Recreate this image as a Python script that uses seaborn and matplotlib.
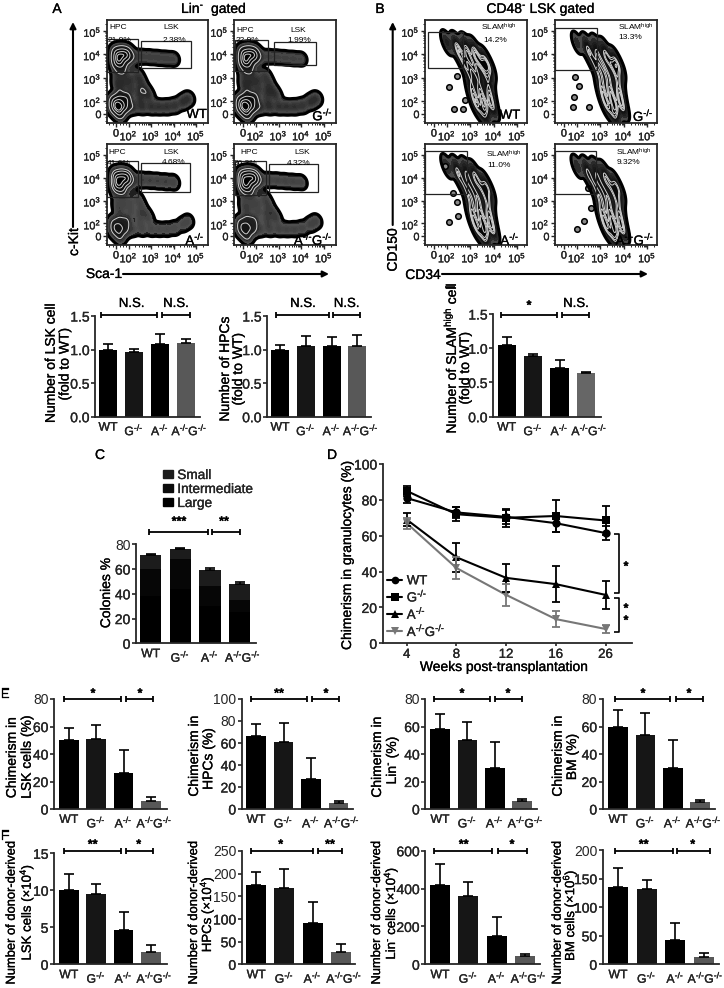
import numpy as np
import pandas as pd
import matplotlib
matplotlib.use("Agg")
import matplotlib.pyplot as plt
import matplotlib.patheffects as pe
import matplotlib.transforms as mtrans
import seaborn as sns
from matplotlib.colors import LinearSegmentedColormap
from matplotlib.lines import Line2D
from matplotlib.patches import Patch, Rectangle, FancyArrowPatch
from matplotlib.text import Text
from matplotlib.ticker import FixedLocator

KO = r"$^{\text{-/-}}$"
GENOTYPES = ["WT", "G" + KO, "A" + KO, "A" + KO + "G" + KO]
BAR_COLORS = ["#000000", "#161616", "#000000", "#585858"]

# Panel A / B bars
lsk_fold = [1.00, 0.96, 1.08, 1.10];      lsk_fold_err = [0.08, 0.05, 0.15, 0.06]
hpc_fold = [1.00, 1.06, 1.06, 1.05];      hpc_fold_err = [0.07, 0.14, 0.12, 0.17]
slam_fold = [1.04, 0.88, 0.71, 0.64];     slam_fold_err = [0.12, 0.04, 0.12, 0.02]
# Panel C
col_large = [38, 44, 30, 25]
col_inter = [22, 24, 16, 10]
col_small = [11, 8.5, 13, 13]
col_err = [0.8, 0.8, 2, 1.5]
# Panel D
weeks = ["4", "8", "12", "16", "26"]
d_wt = [81, 73, 70.5, 67, 61.5];  d_wt_err = [3, 3, 4, 5, 4]
d_g = [85, 72, 70, 71, 68.5];     d_g_err = [3, 4, 5, 9, 8]
d_a = [69, 48, 36.5, 33, 27];     d_a_err = [3.5, 8, 8, 10, 8]
d_ag = [67, 42, 27, 13.5, 8];     d_ag_err = [3, 6, 6, 4.5, 2]
# Panel E
e_lsk = [50, 51, 26, 6];     e_lsk_err = [9, 10, 17, 2.5]
e_hpc = [66, 60.5, 27, 5.5]; e_hpc_err = [11, 18, 19, 2]
e_lin = [58, 50.5, 29.5, 5.5]; e_lin_err = [11, 13, 19, 2]
e_bm = [60, 53.5, 30, 5];    e_bm_err = [12, 16.5, 20, 1.5]
# Panel F
f_lsk = [10, 9.55, 4.6, 1.7];  f_lsk_err = [2.2, 1.25, 2.5, 0.9]
f_hpc = [175, 168, 92, 28];    f_hpc_err = [28, 42, 46, 17]
f_lin = [418, 362, 152, 45];   f_lin_err = [112, 73, 98, 12]
f_bm = [135, 132, 42, 12];     f_bm_err = [33, 15, 31, 7]

# Flow plots: density anchors, on a decade scale
a_x = [1.7, 1.45, 1.95, 1.7, 1.7, 1.45, 1.95, 1.45,
       2.25, 2.6, 2.95, 3.3, 3.65, 4.0,
       1.5, 1.8, 1.5, 1.8, 1.6, 2.1, 2.1,
       2.4, 2.55, 2.5, 2.75, 2.9, 2.5,
       1.6, 1.35, 1.85, 1.6, 1.6, 1.35, 1.9,
       2.2, 2.6, 3.0, 3.35, 3.7, 4.05, 4.4, 4.65]
a_y = [3.85, 3.85, 3.85, 4.15, 3.55, 4.1, 4.1, 3.6,
       3.9, 3.9, 3.88, 3.85, 3.82, 3.8,
       3.2, 3.2, 2.8, 2.8, 2.5, 2.9, 2.5,
       3.1, 2.8, 2.45, 2.45, 2.2, 2.1,
       1.75, 1.7, 1.75, 2.1, 1.45, 2.0, 2.1,
       1.75, 1.75, 1.75, 1.75, 1.75, 1.8, 1.95, 2.1]
a_group = [0] * 8 + [1] * 6 + [2] * 7 + [3] * 6 + [4] * 7 + [5] * 8
a_gw_wt = [2.5, .9, 1, 1, 3, 1.2]
a_gw_g = [2.5, .8, 1, .9, 3, 1.2]
a_gw_a = [4, 1.2, .8, .8, 2.5, .9]
a_gw_ag = [4, 1.1, .9, 1, 2.5, 1.1]

b_x = [2.0, 2.4, 2.8, 3.15, 2.5, 2.85, 3.25, 3.6, 2.75, 3.1, 3.5, 3.8, 3.0, 3.35, 3.75,
       3.05, 3.4, 3.8, 3.15, 3.5, 3.85, 3.3, 3.65, 3.95, 3.6]
b_y = [4.5, 4.45, 4.4, 4.25, 4.1, 4.0, 3.9, 3.8, 3.6, 3.55, 3.5, 3.4, 3.1, 3.05, 3.0,
       2.6, 2.55, 2.5, 2.15, 2.1, 2.1, 1.75, 1.7, 1.7, 1.35]
b_group = [0] * 4 + [1] * 8 + [2] * 6 + [3] * 7
b_gw_wt = [.9, 1.2, 1, 1.1]
b_gw_g = [.6, 1, 1.1, 1.1]
b_gw_a = [.8, .9, 1.1, 1.2]
b_gw_ag = [.7, .9, 1.1, 1.2]

isl_wt_x = [2.44, 2.10, 2.77, 2.31, 2.67]; isl_wt_y = [3.07, 2.58, 2.04, 1.64, 1.64]
isl_g_x = [1.91, 2.09, 1.87, 1.84, 2.50];  isl_g_y = [3.01, 2.64, 2.18, 1.75, 1.75]
isl_a_x = [1.91, 2.27, 2.44, 2.49, 2.10];  isl_a_y = [4.5, 3.34, 2.93, 2.31, 2.05]
isl_ag_x = [2.49, 2.59, 2.30, 1.99];       isl_ag_y = [3.57, 2.68, 2.09, 1.78]

W, H = 724, 988
sns.set_theme(style="ticks")
plt.rcParams["font.family"] = ["Liberation Sans", "DejaVu Sans"]
plt.rcParams["mathtext.fontset"] = "custom"
plt.rcParams["mathtext.rm"] = "Liberation Sans"
plt.rcParams["mathtext.it"] = "Liberation Sans"
plt.rcParams["mathtext.bf"] = "Liberation Sans:bold"
plt.rcParams["mathtext.default"] = "regular"
fig = plt.figure(figsize=(W / 100, H / 100), dpi=100, facecolor="white")


def fx(x):
    return x / W


def fy(y):
    return 1 - y / H


def add_ax(x0, x1, ytop, ybot):
    return fig.add_axes([fx(x0), fy(ybot), fx(x1 - x0), (ybot - ytop) / H])


def txt(x, y, s, size=10, rot=0, **kw):
    fig.text(fx(x), fy(y), s, fontsize=size, rotation=rot, ha=kw.pop("ha", "center"),
             va=kw.pop("va", "center"), color="black", **kw)


def pline(xs, ys, lw=1.2, color="black"):
    fig.add_artist(Line2D([fx(v) for v in xs], [fy(v) for v in ys], transform=fig.transFigure,
                          color=color, lw=lw, solid_capstyle="butt"))


def bracket(x0, x1, y):
    pline([x0, x1], [y, y], 1.3)
    for v in (x0, x1):
        pline([v, v], [y - 3.3, y + 3.3], 1.3)


def arrow(x0, y0, x1, y1):
    fig.add_artist(FancyArrowPatch(
        (fx(x0), fy(y0)), (fx(x1), fy(y1)), transform=fig.transFigure, arrowstyle="-|>",
        mutation_scale=9, lw=1.5, color="black", shrinkA=0, shrinkB=0))


def bar_panel(values, errs, x0, x1, c0, sp, ytop, ybase, ymax, yticks, width=0.72, shift=3.5):
    ax = add_ax(x0, x1, ytop, ybase)
    sns.barplot(x=GENOTYPES, y=values, hue=GENOTYPES, palette=BAR_COLORS, legend=False,
                saturation=1, width=width, errorbar=None, linewidth=0, ax=ax)
    ax.errorbar(range(4), values, yerr=[np.zeros(4), errs], fmt="none", ecolor="black",
                elinewidth=1.2, capsize=3.4, capthick=1.2, zorder=3)
    style_bar_axes(ax, x0, x1, c0, sp, ymax, yticks, shift)
    return ax


def style_bar_axes(ax, x0, x1, c0, sp, ymax, yticks, shift=3.5):
    ax.set_xlim((x0 - c0) / sp, (x1 - c0) / sp)
    ax.set_ylim(0, ymax)
    ax.set_yticks(yticks)
    ax.set_xlabel("")
    ax.set_ylabel("")
    sns.despine(ax=ax)
    for s in ("left", "bottom"):
        ax.spines[s].set_linewidth(1.3)
    ax.tick_params(axis="y", length=3, width=1.2, labelsize=10, pad=1)
    ax.tick_params(axis="x", length=0, labelsize=8.8, pad=3.5)
    ax.patch.set_alpha(0)
    last = ax.get_xticklabels()[-1]
    last.set_transform(last.get_transform() + mtrans.Affine2D().translate(shift, 0))


zebra = LinearSegmentedColormap.from_list(
    "zebra", [(0, "#000000"), (0.05, "#505050"), (0.2, "#2c2c2c"), (0.5, "#141414"), (1, "#000000")])
U0 = 1.44
XLIM_A, XLIM_B, YLIM = (1.04, 5.53), (1.06, 5.42), (1.06, 5.47)
DEC = [r"$10^{%d}$" % d for d in (2, 3, 4, 5)]
minor = [np.log10(k) + d for d in (2, 3, 4) for k in range(2, 10)] + [1.15, 1.3, 1.6, 1.75, 1.9, 5.3]


def flow(box, px, py, group, gw, xlim, factor, isl=None):
    ax = add_ax(*box)
    weights = np.array(gw)[np.array(group)]
    clip = (xlim, YLIM)
    kw = dict(x=px, y=py, weights=weights, bw_method=factor, clip=clip, gridsize=100, ax=ax)
    sns.kdeplot(fill=True, levels=16, thresh=0.02, cmap=zebra, **kw)
    sns.kdeplot(levels=[0.45, 0.65, 0.82, 0.93], color="#cfcfcf", linewidths=0.7, **kw)
    sns.kdeplot(levels=[0.02], color="black", linewidths=2.2, **kw)
    if isl is not None:
        sns.scatterplot(x=isl[0], y=isl[1], s=16, color="#8a8a8a", edgecolor="black", linewidth=1.1, ax=ax, legend=False)
    ax.set_xlim(*xlim)
    ax.set_ylim(*YLIM)
    ax.set_xlabel("")
    ax.set_ylabel("")
    for a in (ax.xaxis, ax.yaxis):
        a.set_major_locator(FixedLocator([U0, 2, 3, 4, 5]))
        a.set_minor_locator(FixedLocator(minor))
    ax.set_xticklabels(["0"] + DEC)
    ax.set_yticklabels(["0"] + DEC)
    ax.tick_params(which="major", length=3, width=1, labelsize=7.8, pad=1)
    ax.tick_params(which="minor", length=1.6, width=0.7)
    for s in ax.spines.values():
        s.set_linewidth(1.3)
        s.set_visible(True)
    return ax


def gate(z, off=0):
    x0, y0, x1, y1 = z
    fig.add_artist(Rectangle((fx(off + x0 / 3), fy(y1 / 3)), (x1 - x0) / 3 / W, (y1 - y0) / 3 / H,
                             transform=fig.transFigure, fill=False, ec="#222222", lw=0.9))


def ztxt(X, Y, s, size=6, off=0):
    txt(off + X / 3, Y / 3, s, size)


# ---------- Panel A flow ----------
a_boxes = [(107, 208, 20, 123), (234, 336, 20, 123), (107, 208, 144, 245), (234, 336, 144, 245)]
for box, w in zip(a_boxes, (a_gw_wt, a_gw_g, a_gw_a, a_gw_ag)):
    flow(box, a_x, a_y, a_group, w, XLIM_A, 0.19)
for z in [(322, 118, 415, 215), (424, 122, 573, 205), (705, 120, 805, 213), (823, 125, 949, 196),
          (320, 482, 415, 590), (424, 490, 570, 575), (705, 484, 797, 585), (806, 492, 955, 575)]:
    gate(z)
for X, Y, s in [(355, 83, "HPC"), (515, 83, "LSK"), (358, 122, "21.9%"), (522, 122, "2.38%"),
                (737, 92, "HPC"), (896, 92, "LSK"), (742, 122, "22.9%"), (897, 122, "1.99%"),
                (353, 457, "HPC"), (513, 457, "LSK"), (355, 491, "41.6%"), (522, 489, "4.68%"),
                (747, 457, "HPC"), (906, 457, "LSK"), (735, 491, "36.3%"), (897, 490, "4.32%")]:
    ztxt(X, Y, s)
for X, Y, s in [(590, 345, "WT"), (968, 345, GENOTYPES[1]), (585, 718, GENOTYPES[2]), (940, 718, GENOTYPES[3])]:
    ztxt(X, Y, s, 9.5)

# ---------- Panel B flow ----------
b_boxes = [(425, 527, 20, 123), (555, 657, 20, 123), (425, 527, 144, 245), (555, 657, 144, 245)]
isls = [(isl_wt_x, isl_wt_y), (isl_g_x, isl_g_y), (isl_a_x, isl_a_y), (isl_ag_x, isl_ag_y)]
for box, w, isl in zip(b_boxes, (b_gw_wt, b_gw_g, b_gw_a, b_gw_ag), isls):
    flow(box, b_x, b_y, b_group, w, XLIM_B, 0.32, isl)
for z in [(205, 95, 310, 205), (585, 83, 712, 211), (195, 454, 320, 581), (585, 454, 709, 583)]:
    gate(z, 360)
SLAM = r"SLAM$^{high}$"
for X, Y, s in [(417, 83, SLAM), (405, 120, "14.2%"), (827, 83, SLAM), (812, 113, "13.3%"),
                (430, 462, SLAM), (417, 497, "11.0%"), (820, 457, SLAM), (805, 487, "9.32%")]:
    ztxt(X, Y, s, 6, 360)
for X, Y, s in [(450, 347, "WT"), (850, 347, GENOTYPES[1]), (450, 718, GENOTYPES[2]), (825, 718, GENOTYPES[3])]:
    ztxt(X, Y, s, 9.5, 360)

txt(57, 9, "A", 10)
txt(214, 9, r"Lin$^{\text{-}}$  gated", 10)
txt(380, 9, "B", 10)
txt(541, 9, r"CD48$^{\text{-}}$ LSK gated", 10)
arrow(73, 227, 73, 22)
txt(74, 242, "c-Kit", 10, 90)
txt(104, 274, "Sca-1", 10)
arrow(123, 274, 329, 274)
arrow(392.7, 225, 392.7, 22)
txt(392.7, 250, "CD150", 10, 90)
txt(423, 275, "CD34", 10)
arrow(442, 274, 648, 274)
pline([445, 455], [287, 287], 1.2)

# ---------- Fold-change bars ----------
TICK15 = [0, 0.5, 1.0, 1.5]
bar_panel(lsk_fold, lsk_fold_err, 95, 200, 108, 26, 316, 416.7, 1.5, TICK15, width=0.69)
bar_panel(hpc_fold, hpc_fold_err, 267, 371, 280, 25.8, 316, 416.7, 1.5, TICK15, width=0.69)
ax = bar_panel(slam_fold, slam_fold_err, 493, 600.7, 506.7, 26.4, 314, 416.7, 1.5, TICK15, width=0.69)
ax.patches[3].set_facecolor("#666666")
for a, b in [(100.7, 157), (161.7, 190), (276, 329), (333, 360), (500.7, 557), (561.7, 589)]:
    bracket(a, b, 315)
for x, s in [(131.7, "N.S."), (176, "N.S."), (303, "N.S."), (346.7, "N.S."), (576, "N.S.")]:
    txt(x, 304, s, 9.5)
txt(529, 306, "*", 9, fontweight="bold")
txt(50.7, 363, "Number of LSK cell", 10, 90)
txt(64.5, 364, "(fold to WT)", 10, 90)
txt(225, 369, "Number of HPCs", 10, 90)
txt(238, 369, "(fold to WT)", 10, 90)
txt(450, 358, r"Number of SLAM$^{high}$ cell", 10, 90)
txt(465, 368, "(fold to WT)", 10, 90)

# ---------- Panel C ----------
txt(100, 455, "C", 10)
ax = add_ax(136, 255.7, 544.3, 643.3)
bot = np.zeros(4)
for vals, col in [(col_large, "#000000"), (col_inter, "#060606"), (col_small, "#1c1c1c")]:
    sns.barplot(x=GENOTYPES, y=vals, bottom=bot, color=col, saturation=1, width=0.72, errorbar=None,
                linewidth=0, ax=ax)
    bot = bot + np.array(vals)
ax.errorbar(range(4), bot, yerr=[np.zeros(4), col_err], fmt="none", ecolor="black",
            elinewidth=1.2, capsize=3.4, capthick=1.2)
style_bar_axes(ax, 136, 255.7, 150.7, 29.6, 80, [0, 20, 40, 60, 80])
txt(106, 593, "Colonies %", 10, 90)
bracket(148.7, 208, 532)
bracket(211.7, 240, 532)
txt(179, 522, "***", 9, fontweight="bold")
txt(224, 522, "**", 9, fontweight="bold")
fig.legend(handles=[Patch(color="#1c1c1c"), Patch(color="#0c0c0c"), Patch(color="#000000")],
           labels=["Small", "Intermediate", "Large"], loc="upper left",
           bbox_to_anchor=(fx(163), fy(468)), frameon=False, fontsize=9.8, handlelength=0.75,
           handleheight=0.45, labelspacing=0.0, handletextpad=0.3, borderpad=0, borderaxespad=0)

# ---------- Panel D ----------
txt(332, 455, "D", 10)
ax = add_ax(382.7, 631.7, 464, 643.3)
series = [("WT", d_wt, d_wt_err, "black", "o"), (GENOTYPES[1], d_g, d_g_err, "black", "s"),
          (GENOTYPES[2], d_a, d_a_err, "black", "^"), (GENOTYPES[3], d_ag, d_ag_err, "#777777", "v")]
long = pd.DataFrame([{"week": i, "chim": v, "geno": n} for n, vals, _, _, _ in series for i, v in enumerate(vals)])
sns.lineplot(data=long, x="week", y="chim", hue="geno", style="geno", hue_order=[s[0] for s in series],
             palette=[s[3] for s in series], markers={s[0]: s[4] for s in series},
             dashes=False, markersize=6, linewidth=1.5, markeredgewidth=0, legend=False, ax=ax)
for n, vals, errs, c, m in series:
    ax.errorbar(range(5), vals, yerr=errs, fmt="none", ecolor=c, elinewidth=1.3, capsize=2.8, capthick=1.3)
ax.set_xticks(range(5), weeks)
ax.set_xlim((382.7 - 406.7) / 49.7, (631.7 - 406.7) / 49.7)
ax.set_ylim(0, 100)
ax.set_yticks([0, 20, 40, 60, 80, 100])
ax.set_xlabel("")
ax.set_ylabel("")
sns.despine(ax=ax)
for s in ("left", "bottom"):
    ax.spines[s].set_linewidth(1.3)
ax.tick_params(axis="y", length=3, width=1.2, labelsize=10, pad=1)
ax.tick_params(axis="x", length=2.5, width=1.2, labelsize=9.5, pad=1.5)
ax.patch.set_alpha(0)
txt(347, 555, "Chimerism in granulocytes (%)", 10, 90)
txt(504, 667, "Weeks post-transplantation", 10)
fig.legend(handles=[Line2D([], [], color=s[3], marker=s[4], ms=5.5, lw=1.5, mew=0) for s in series],
           labels=[s[0] for s in series], loc="upper left", bbox_to_anchor=(fx(387), fy(575)),
           frameon=False, fontsize=9.5, handlelength=1.15, labelspacing=0.05, handletextpad=0.35,
           borderpad=0, borderaxespad=0)
pline([614, 619.3, 619.3, 614], [534.3, 534.3, 593, 593], 1.2)
pline([614, 619.3, 619.3, 614], [597.7, 597.7, 631.7, 631.7], 1.2)
for y in (567, 609, 621):
    txt(626, y, "*", 9, fontweight="bold")

# ---------- Panels E and F ----------
txt(5, 694, "E", 10)
txt(5, 836, "F", 10)
T80 = [0, 20, 40, 60, 80]
bar_panel(e_lsk, e_lsk_err, 54, 166.7, 68.8, 27.4, 699, 809, 80, T80)
bar_panel(e_hpc, e_hpc_err, 241.7, 353, 256, 27.5, 699, 809, 100, [0, 20, 40, 60, 80, 100])
bar_panel(e_lin, e_lin_err, 425.3, 537, 440, 27.4, 699, 809, 80, T80)
bar_panel(e_bm, e_bm_err, 602.7, 715.3, 618, 27.4, 699, 809, 80, T80)
bar_panel(f_lsk, f_lsk_err, 54, 166.7, 68.8, 27.4, 853.3, 964.3, 15, [0, 5, 10, 15])
bar_panel(f_hpc, f_hpc_err, 241.7, 355, 256.2, 28.2, 851, 964.3, 250, [0, 50, 100, 150, 200, 250], width=0.71)
bar_panel(f_lin, f_lin_err, 425.3, 540, 440, 28.4, 850.7, 964.3, 600, [0, 200, 400, 600], width=0.71)
bar_panel(f_bm, f_bm_err, 602.7, 718.7, 618, 28.7, 850, 964.3, 200, [0, 50, 100, 150, 200], width=0.7, shift=1.5)
for a, b in [(64.3, 120.7), (126, 153.3), (250.7, 306.7), (312, 339), (433.7, 489.7), (494.7, 522.3),
             (614.7, 670.3), (676, 703.3)]:
    bracket(a, b, 699)
for a, b in [(64.3, 120.7), (126, 153.3), (250.7, 312.7), (317.7, 342.3), (433.7, 492), (497.7, 527),
             (614.7, 672.7), (677, 709.7)]:
    bracket(a, b, 851)
for x, s in [(93, "*"), (140, "*"), (279, "**"), (326, "*"), (462, "*"), (508, "*"), (643, "*"), (689, "*")]:
    txt(x, 694, s, 9, fontweight="bold")
for x, s in [(92.7, "**"), (138.7, "*"), (280.7, "*"), (330, "**"), (463.7, "**"), (512, "*"), (643.7, "**"), (692.7, "*")]:
    txt(x, 845, s, 9, fontweight="bold")
for x, y, s, sz in [(11.7, 757.5, "Chimerism in", 10), (26.7, 757, "LSK cells (%)", 10),
                    (194, 756, "Chimerism in", 10), (208.3, 759, "HPCs (%)", 10),
                    (377, 757, "Chimerism in", 10), (392, 760, r"Lin$^{\text{-}}$ (%)", 10),
                    (557.7, 756, "Chimerism in", 10), (572, 757, "BM (%)", 10),
                    (11.7, 913, "Number of donor-derived", 9.3), (26.7, 912, "LSK cells (×10$^{4}$)", 9.5),
                    (194, 913, "Number of donor-derived", 9.3), (207, 914, "HPCs (×10$^{4}$)", 9.5),
                    (377, 913, "Number of donor-derived", 9.3), (391, 913, r"Lin$^{\text{-}}$ cells (×10$^{4}$)", 9.5),
                    (557.7, 913, "Number of donor-derived", 9.3), (570, 915, "BM cells (×10$^{6}$)", 9.5)]:
    txt(x, y, s, sz, 90)

# the reference's type reads slightly heavier than the regular face
for t in fig.findobj(Text):
    if t.get_text() and t.get_fontsize() >= 7.5:
        t.set_path_effects([pe.withStroke(linewidth=0.2, foreground="black")])

fig.savefig("out.png", dpi=100)
